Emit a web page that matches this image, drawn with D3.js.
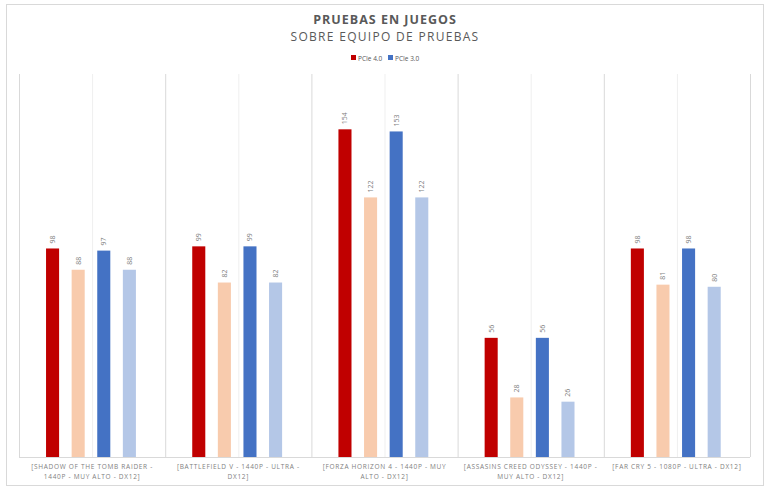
<!DOCTYPE html><html><head><meta charset="utf-8"><script src="https://cdn.jsdelivr.net/npm/d3@7"></script>
<style>body{margin:0;background:#fff}text{font-family:"Open Sans",sans-serif}</style></head><body><svg id="c" width="770" height="490"></svg>
<script>
const categories=["[SHADOW OF THE TOMB RAIDER - 1440P - MUY ALTO - DX12]","[BATTLEFIELD V - 1440P - ULTRA - DX12]","[FORZA HORIZON 4 - 1440P - MUY ALTO - DX12]","[ASSASINS CREED ODYSSEY - 1440P - MUY ALTO - DX12]","[FAR CRY 5 - 1080P - ULTRA - DX12]"];
const labelLines=[["[SHADOW OF THE TOMB RAIDER -","1440P - MUY ALTO - DX12]"],["[BATTLEFIELD V - 1440P - ULTRA -","DX12]"],["[FORZA HORIZON 4 - 1440P - MUY","ALTO - DX12]"],["[ASSASINS CREED ODYSSEY - 1440P -","MUY ALTO - DX12]"],["[FAR CRY 5 - 1080P - ULTRA - DX12]"]];
const seriesNames=["PCIe 4.0 A","PCIe 4.0 B","PCIe 3.0 A","PCIe 3.0 B"];
const pcie4a=[98,99,154,56,98];
const pcie4b=[88,82,122,28,81];
const pcie3a=[97,99,153,56,98];
const pcie3b=[88,82,122,26,80];
const colors=["#c00000","#f8cbad","#4472c4","#b4c7e7"];
const series=[pcie4a,pcie4b,pcie3a,pcie3b];
const svg=d3.select("#c");
svg.append("rect").attr("x",6.5).attr("y",4.5).attr("width",757).attr("height",481).attr("fill","#fff").attr("stroke","#d9d9d9");
const L=19,R=750,T=74,B=457;
const x=d3.scaleBand().domain(categories).range([L,R]);
const xs=d3.scaleBand().domain(seriesNames).range([0,x.bandwidth()]).paddingInner(0.49).paddingOuter(1.1).align(0.48);
const y=d3.scaleLinear().domain([0,180]).range([B,T]);
const g=svg.append("g");
categories.forEach((c,i)=>{
  g.append("line").attr("x1",x(c)+.5).attr("x2",x(c)+.5).attr("y1",T).attr("y2",B).attr("stroke","#d9d9d9");
  g.append("line").attr("x1",x(c)+x.bandwidth()/2+.5).attr("x2",x(c)+x.bandwidth()/2+.5).attr("y1",T).attr("y2",B).attr("stroke","#efefef");
});
g.append("line").attr("x1",R+.5).attr("x2",R+.5).attr("y1",T).attr("y2",B).attr("stroke","#d9d9d9");
g.append("line").attr("x1",L).attr("x2",R).attr("y1",B+.5).attr("y2",B+.5).attr("stroke","#d9d9d9");
series.forEach((s,si)=>{
  const gg=svg.append("g");
  gg.selectAll("rect").data(s).join("rect")
    .attr("x",(d,i)=>x(categories[i])+xs(seriesNames[si])).attr("width",xs.bandwidth())
    .attr("y",d=>y(d)).attr("height",d=>B-y(d)).attr("fill",colors[si]);
  gg.selectAll("text").data(s).join("text")
    .attr("transform",(d,i)=>`translate(${x(categories[i])+xs(seriesNames[si])+xs.bandwidth()/2+2.5},${y(d)-5}) rotate(-90)`)
    .attr("font-size",7).attr("fill","#7f7f7f").text(d=>d);
});
labelLines.forEach((ls,i)=>{
  const t=svg.append("text").attr("x",x(categories[i])+x.bandwidth()/2).attr("y",469).attr("text-anchor","middle").attr("font-size",6.5).attr("fill","#7f7f7f").attr("letter-spacing","0.7");
  ls.forEach((l,j)=>t.append("tspan").attr("x",x(categories[i])+x.bandwidth()/2).attr("dy",j?10:0).text(l));
});
svg.append("text").attr("x",385).attr("y",24).attr("text-anchor","middle").attr("font-size",12.5).attr("font-weight","bold").attr("fill","#595959").attr("letter-spacing","1").text("PRUEBAS EN JUEGOS");
svg.append("text").attr("x",385).attr("y",41).attr("text-anchor","middle").attr("font-size",12).attr("fill","#595959").attr("letter-spacing","1.3").text("SOBRE EQUIPO DE PRUEBAS");
const leg=[["PCIe 4.0",colors[0],351],["PCIe 3.0",colors[2],388]];
leg.forEach(([t,c,lx])=>{svg.append("rect").attr("x",lx).attr("y",55).attr("width",5).attr("height",5).attr("fill",c);
svg.append("text").attr("x",lx+7).attr("y",60.5).attr("font-size",6.5).attr("fill","#595959").text(t);});
</script></body></html>
